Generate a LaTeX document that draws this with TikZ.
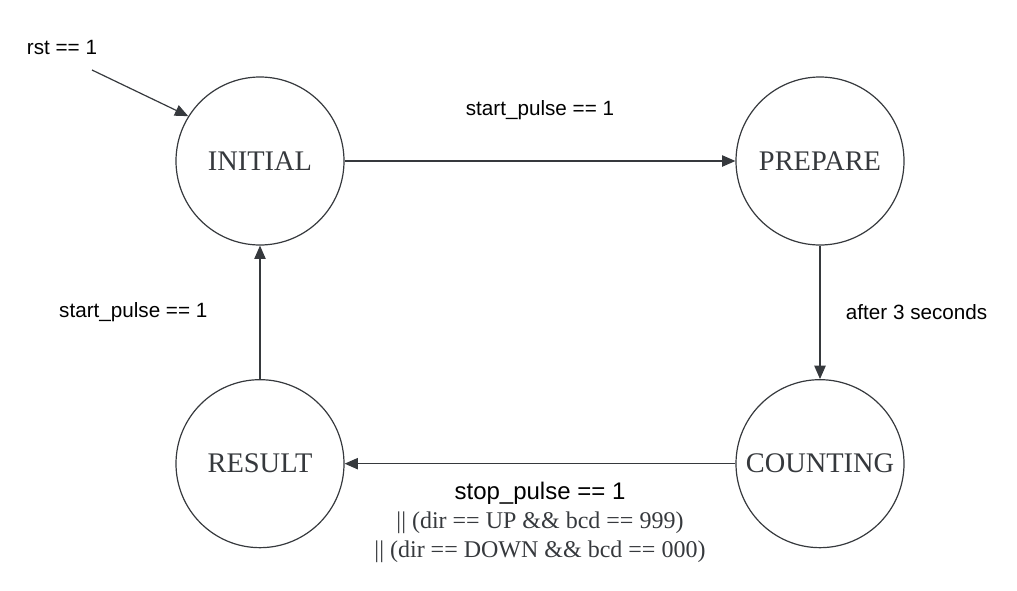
\documentclass[tikz,border=0pt]{standalone}
\usepackage{fontspec}
\setmainfont{Liberation Serif}
\setsansfont{Liberation Sans}
\usetikzlibrary{arrows.meta,positioning}
\definecolor{linegray}{HTML}{36393D}

\begin{document}
\begin{tikzpicture}[x=0.75pt,y=-0.75pt,>={Triangle[length=10pt,width=8.5pt]},node distance=420pt,line width=0.9pt]
\tikzstyle{state node}=[circle,draw=linegray,minimum size=126pt,inner sep=0,font=\fontsize{21.3}{25}\selectfont,text=linegray]
\tikzstyle{cond label}=[font=\sffamily\fontsize{15.5}{18}\selectfont,text=black,inner sep=0]

\tikzset{
	cond block/.style={align=center,inner sep=0,font=\fontsize{18}{21.75}\selectfont,text=black},
	trans/.style={->,draw=linegray}
}
      \useasboundingbox (0,0) rectangle (1017,590);

      \node[state node] (INITIAL) at (260,161) {INITIAL};
      \node[state node] (PREPARE) [right of=INITIAL] {PREPARE};
      \node[state node] (COUNTING) [below of=PREPARE,node distance=227pt] {COUNTING};
      \node[state node] (RESULT) [left of=COUNTING] {RESULT};
      \node[cond label] (rstlabel) at (62,47) {rst == 1};
      \coordinate (rst) at (92,70);


    \path  (rst) edge[trans] (INITIAL.148);
    \path  (INITIAL) edge[trans] node[cond label,yshift=38pt] {start\_pulse == 1} (PREPARE);
    \path  (PREPARE) edge[trans] node[cond label,anchor=west,xshift=19pt] {after 3 seconds} (COUNTING);
    \path  (COUNTING) edge[trans] node[cond block,anchor=north,yshift=-13pt] {{\sffamily stop\_pulse == 1}\\
      {\color{linegray}|| (dir == UP \&\& bcd == 999)}\\
      {\color{linegray}|| (dir == DOWN \&\& bcd == 000)}} (RESULT);
    \path  (RESULT) edge[trans] node[cond label,anchor=east,xshift=-39pt] {start\_pulse == 1} (INITIAL);
\end{tikzpicture}
\end{document}
